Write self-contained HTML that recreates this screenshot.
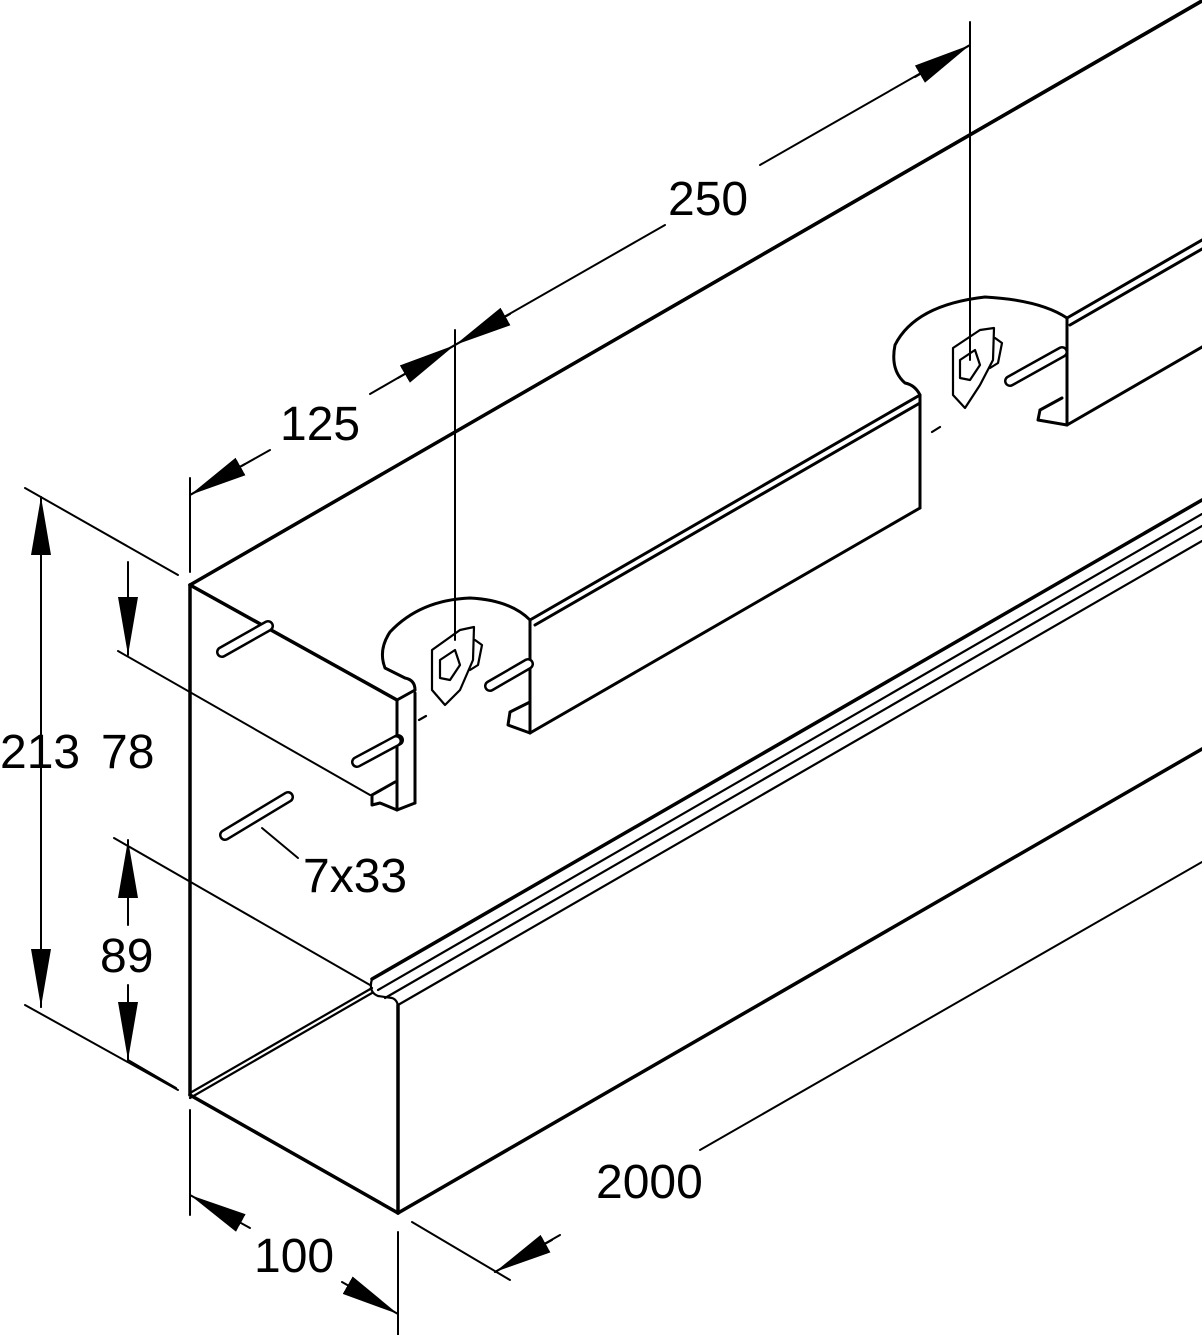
<!DOCTYPE html>
<html><head><meta charset="utf-8"><style>
html,body{margin:0;padding:0;background:#fff}
svg{display:block}
text{font-family:"Liberation Sans",sans-serif;font-size:48px;fill:#000}
</style></head><body>
<svg width="1202" height="1335" viewBox="0 0 1202 1335" xmlns="http://www.w3.org/2000/svg">
<defs>
<marker id="a" markerUnits="userSpaceOnUse" markerWidth="60" markerHeight="24" refX="58" refY="10" orient="auto">
<path d="M0,0 L58,10 L0,20 Z" fill="#000"/>
</marker>
</defs>
<g fill="none" stroke="#000" stroke-linecap="round" stroke-linejoin="round">
<g stroke-width="3.5">
<line x1="190" y1="585" x2="190" y2="1095"/>
<line x1="190" y1="1095" x2="398" y2="1213"/>
<line x1="398" y1="1005" x2="398" y2="1213"/>
<line x1="398" y1="1213" x2="1202" y2="749"/>
<line x1="190" y1="585" x2="1202" y2="1"/>
<line x1="190" y1="585" x2="397" y2="700"/>
<line x1="372" y1="979" x2="1202" y2="500"/>
</g>
<g stroke-width="2.2">
<line x1="190" y1="1093" x2="372" y2="988"/>
<line x1="190" y1="1098" x2="372" y2="993"/>
<line x1="378" y1="990" x2="1202" y2="514"/>
<line x1="385" y1="998" x2="1202" y2="526"/>
<line x1="398" y1="1005" x2="1202" y2="541"/>
<path d="M372,979 Q368,992 378,996 L392,998 Q398,1000 398,1008"/>
<line x1="198" y1="580" x2="1202" y2="0"/>
</g>
<g stroke-width="3">
<line x1="397" y1="700" x2="397" y2="810"/>
<line x1="415" y1="693" x2="415" y2="803"/>
<line x1="397" y1="700" x2="415" y2="690"/>
<line x1="397" y1="810" x2="415" y2="803"/>
<path d="M415,690 Q415,680 405,678 L385,668 Q378,650 390,632 Q420,600 470,598 Q510,600 530,620"/>
<path d="M372,795 L395,782 M372,795 L372,805 L380,803 L397,810"/>
<line x1="530" y1="620" x2="530" y2="733"/>
<line x1="530" y1="620" x2="920" y2="395"/>
<line x1="535" y1="625" x2="920" y2="403"/>
<line x1="530" y1="733" x2="920" y2="508"/>
<line x1="920" y1="395" x2="920" y2="508"/>
<path d="M510,712 L530,702 M510,712 L508,725 L530,733"/>
<path d="M920,395 Q915,385 905,383 Q890,370 895,345 Q915,305 985,297 Q1040,300 1067,318"/>
<line x1="1067" y1="318" x2="1067" y2="425"/>
<line x1="1067" y1="318" x2="1202" y2="240"/>
<line x1="1070" y1="325" x2="1202" y2="249"/>
<line x1="1067" y1="425" x2="1202" y2="347"/>
<path d="M1040,410 L1062,398 M1040,410 L1038,420 L1067,425"/>
</g>
<g stroke-width="12">
<line x1="222" y1="652" x2="268" y2="626"/>
<line x1="357" y1="762" x2="398" y2="740"/>
<line x1="225" y1="835" x2="288" y2="797"/>
<line x1="490" y1="686" x2="528" y2="664"/>
<line x1="1010" y1="381" x2="1062" y2="352"/>
</g>
<g stroke-width="7" stroke="#fff">
<line x1="222" y1="652" x2="268" y2="626"/>
<line x1="357" y1="762" x2="396" y2="741"/>
<line x1="225" y1="835" x2="288" y2="797"/>
<line x1="490" y1="686" x2="528" y2="664"/>
<line x1="1010" y1="381" x2="1062" y2="352"/>
</g>
<g stroke-width="2.2">
<path d="M419,720 L426,716 M932,432 L940,427"/>
<path d="M432,650 L460,630 L474,627 L473,660 L460,690 L445,705 L432,690 Z"/>
<path d="M440,660 L455,650 L460,665 L450,680 L440,678 Z"/>
<path d="M475,640 L482,645 L478,665 L470,670"/>
<path d="M953,348 L980,330 L994,328 L993,360 L980,385 L965,408 L953,395 Z"/>
<path d="M960,360 L975,350 L980,365 L970,380 L960,378 Z"/>
<path d="M995,338 L1002,343 L998,363 L990,368"/>
</g>
<g stroke-width="2">
<line x1="25" y1="488" x2="178" y2="575"/>
<line x1="25" y1="1005" x2="178" y2="1090"/>
<line x1="41" y1="497" x2="41" y2="1007"/>
<line x1="118" y1="651" x2="370" y2="795"/>
<line x1="128" y1="562" x2="128" y2="600"/>
<line x1="114" y1="838" x2="370" y2="985"/>
<line x1="128" y1="1060" x2="176" y2="1088"/>
<line x1="128" y1="900" x2="128" y2="925"/>
<line x1="128" y1="1000" x2="128" y2="985"/>
<line x1="262" y1="828" x2="298" y2="858"/>
<line x1="190" y1="1110" x2="190" y2="1215"/>
<line x1="398" y1="1232" x2="398" y2="1335"/>
<line x1="412" y1="1222" x2="510" y2="1280"/>
<line x1="495" y1="1272" x2="560" y2="1235"/>
<line x1="700" y1="1150" x2="1202" y2="862"/>
<line x1="190" y1="478" x2="190" y2="572"/>
<line x1="455" y1="330" x2="455" y2="640"/>
<line x1="970" y1="22" x2="970" y2="360"/>
<line x1="190" y1="495" x2="270" y2="450"/>
<line x1="370" y1="394" x2="455" y2="345"/>
<line x1="455" y1="345" x2="665" y2="225"/>
<line x1="760" y1="165" x2="970" y2="45"/>
</g>
<g stroke-width="2">
<line x1="41" y1="560" x2="41" y2="497" marker-end="url(#a)"/>
<line x1="41" y1="945" x2="41" y2="1007" marker-end="url(#a)"/>
<line x1="128" y1="595" x2="128" y2="655" marker-end="url(#a)"/>
<line x1="128" y1="905" x2="128" y2="840" marker-end="url(#a)"/>
<line x1="128" y1="995" x2="128" y2="1060" marker-end="url(#a)"/>
<line x1="250" y1="1228" x2="190" y2="1195" marker-end="url(#a)"/>
<line x1="342" y1="1282" x2="398" y2="1314" marker-end="url(#a)"/>
<line x1="552" y1="1240" x2="495" y2="1272" marker-end="url(#a)"/>
<line x1="245" y1="464" x2="190" y2="495" marker-end="url(#a)"/>
<line x1="398" y1="378" x2="455" y2="345" marker-end="url(#a)"/>
<line x1="510" y1="314" x2="455" y2="345" marker-end="url(#a)"/>
<line x1="915" y1="77" x2="970" y2="45" marker-end="url(#a)"/>
</g>
</g>
<text x="0" y="768">213</text>
<text x="101" y="768">78</text>
<text x="100" y="972">89</text>
<text x="303" y="892">7x33</text>
<text x="254" y="1272">100</text>
<text x="596" y="1198">2000</text>
<text x="280" y="440">125</text>
<text x="668" y="215">250</text>
</svg>
</body></html>
